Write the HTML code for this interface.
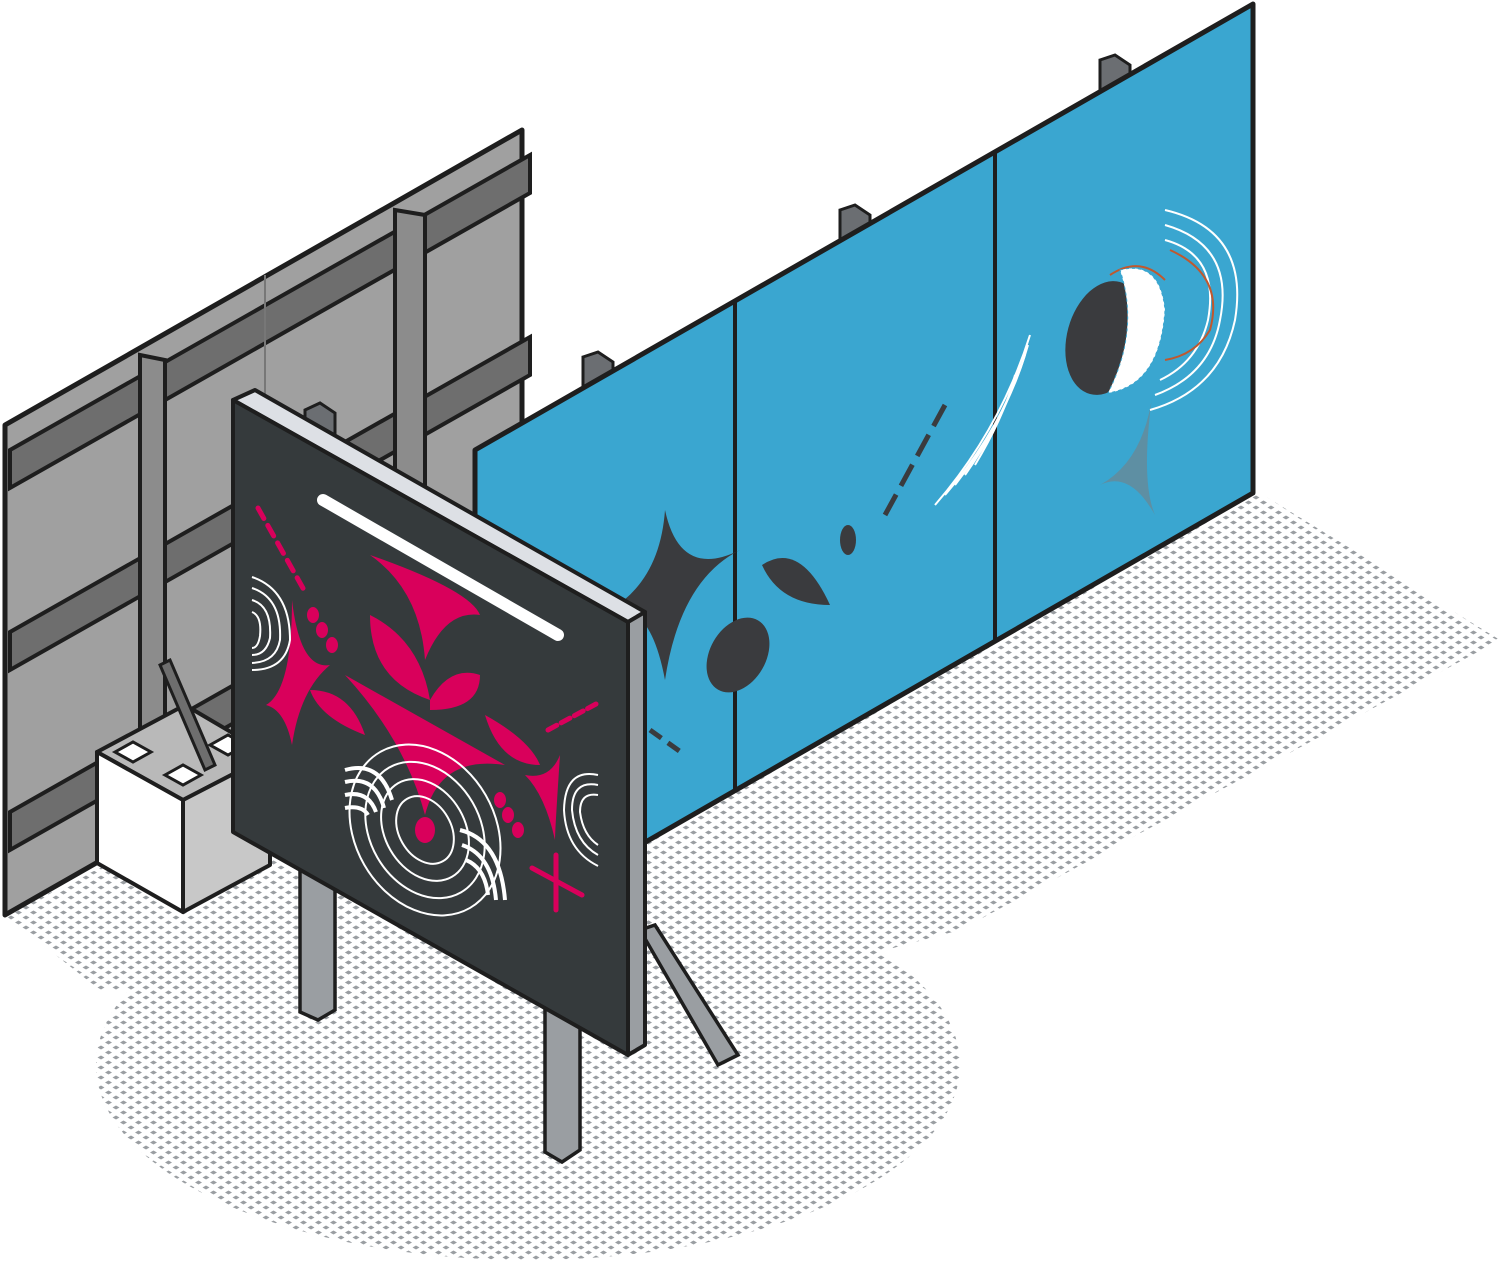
<!DOCTYPE html>
<html><head><meta charset="utf-8"><style>html,body{margin:0;padding:0;background:#fff}svg{display:block}</style></head><body>
<svg width="1503" height="1263" viewBox="0 0 1503 1263" xmlns="http://www.w3.org/2000/svg">
<defs>
<pattern id="dots" width="15" height="10" patternUnits="userSpaceOnUse">
<polygon points="3.5,0.5 7,2.5 3.5,4.5 0,2.5" fill="#9a9ea2"/>
<polygon points="11,5.5 14.5,7.5 11,9.5 7.5,7.5" fill="#9a9ea2"/>
</pattern>
</defs>
<!-- ground -->
<g fill="url(#dots)">
<polygon points="5,915 480,680 1255,490 1500,640 960,930 700,1000 100,990"/>
<ellipse cx="528" cy="1065" rx="432" ry="195"/>
</g>
<!-- gray wall -->
<polygon points="5,425 522,130 522,620 5,915" fill="#a0a0a0" stroke="#1e1e1e" stroke-width="5" stroke-linejoin="round"/>
<g fill="#6e6e6e" stroke="#1e1e1e" stroke-width="4">
<polygon points="10,450 530,155 530,193 10,488"/>
<polygon points="10,632 530,337 530,375 10,670"/>
<polygon points="10,812 530,517 530,555 10,850"/>
</g>
<line x1="265" y1="275" x2="265" y2="760" stroke="#777" stroke-width="2"/>
<g fill="#8c8c8c" stroke="#1e1e1e" stroke-width="4">
<polygon points="140,355 165,360 165,740 140,735"/>
<polygon points="395,210 425,215 425,720 395,715"/>
</g>
<!-- concrete block -->
<polygon points="97,752 185,705 270,755 183,800" fill="#b9b9b9" stroke="#1e1e1e" stroke-width="4" stroke-linejoin="round"/>
<polygon points="97,752 183,800 183,912 97,863" fill="#fff" stroke="#1e1e1e" stroke-width="4" stroke-linejoin="round"/>
<polygon points="183,800 270,755 270,865 183,912" fill="#c8c8c8" stroke="#1e1e1e" stroke-width="4" stroke-linejoin="round"/>
<g fill="#fff" stroke="#1e1e1e" stroke-width="3">
<polygon points="115,752 133,742 151,752 133,762"/>
<polygon points="165,775 183,765 201,775 183,785"/>
<polygon points="210,745 228,735 246,745 228,755"/>
</g>
<!-- brace to block -->
<polygon points="160,665 170,660 215,765 205,770" fill="#6e6e6e" stroke="#1e1e1e" stroke-width="3"/>
<!-- posts behind blue wall -->
<g fill="#6b6e72" stroke="#1e1e1e" stroke-width="3">
<polygon points="1100,60 1115,55 1130,65 1130,90 1100,90"/>
<polygon points="840,210 855,205 870,215 870,240 840,240"/>
<polygon points="583,357 598,352 613,362 613,390 583,390"/>
<polygon points="305,410 320,403 335,413 335,440 305,440"/>
<polygon points="553,552 568,545 583,555 583,580 553,580"/>
</g>
<!-- blue wall -->
<polygon points="475,450 1253,4 1253,493 475,940" fill="#3aa6d0" stroke="#1e1e1e" stroke-width="5" stroke-linejoin="round"/>
<line x1="735" y1="300" x2="735" y2="790" stroke="#1e1e1e" stroke-width="4"/>
<line x1="995" y1="152" x2="995" y2="641" stroke="#1e1e1e" stroke-width="4"/>
<!-- blue decorations -->
<g fill="#3a3b3e">
<path d="M665,510 Q680,580 740,550 Q680,580 665,680 Q650,600 610,610 Q660,580 665,510Z"/>
<path d="M762,565 Q800,540 830,605 Q780,605 762,565Z"/>
<ellipse cx="738" cy="655" rx="28" ry="40" transform="rotate(30 738 655)"/>
<ellipse cx="848" cy="540" rx="8" ry="15"/>
<ellipse cx="1105" cy="338" rx="38" ry="58" transform="rotate(15 1105 338)"/>
</g>
<path d="M1153,390 Q1140,480 1155,515 Q1130,470 1100,485 Q1145,460 1153,390Z" fill="#5e8fa3"/>
<g fill="none" stroke="#fff" stroke-width="2">
<path d="M935,505 Q1000,430 1030,335"/><path d="M945,495 Q1005,425 1028,345"/><path d="M955,485 Q1005,420 1025,355"/><path d="M965,475 Q1005,418 1020,365"/><path d="M975,465 Q1005,415 1015,375"/>
<path d="M1165,210 Q1250,230 1235,320 Q1220,390 1150,410"/><path d="M1165,225 Q1235,245 1220,320 Q1210,375 1155,395"/><path d="M1165,240 Q1220,255 1208,320 Q1198,362 1160,380"/>
</g>
<g fill="none" stroke="#c0582e" stroke-width="2">
<path d="M1170,250 Q1225,275 1210,330 Q1195,355 1165,360"/><path d="M1110,275 Q1140,255 1165,280"/>
</g>
<path d="M1120,270 Q1160,260 1165,310 Q1160,385 1108,393 Q1140,330 1120,270Z" fill="#fff" stroke="#3aa6d0" stroke-width="1" stroke-dasharray="3 3"/>
<g stroke="#3a3b3e" stroke-width="5"><line x1="945" y1="405" x2="885" y2="515" stroke-dasharray="24 10"/><line x1="650" y1="730" x2="685" y2="755" stroke-dasharray="14 8"/></g>
<!-- legs -->
<g fill="#9a9ea2" stroke="#1e1e1e" stroke-width="3.5">
<polygon points="300,860 335,860 335,1010 318,1020 300,1012"/>
<polygon points="545,1000 580,1000 580,1150 562,1162 545,1152"/>
<polygon points="640,930 655,925 738,1055 718,1065"/>
</g>
<!-- sign -->
<polygon points="233,400 255,390 645,612 628,622" fill="#dde0e5" stroke="#1e1e1e" stroke-width="4" stroke-linejoin="round"/>
<polygon points="628,622 645,612 645,1045 628,1055" fill="#9a9ea2" stroke="#1e1e1e" stroke-width="4" stroke-linejoin="round"/>
<polygon points="233,400 628,622 628,1055 233,832" fill="#353a3c" stroke="#1e1e1e" stroke-width="4" stroke-linejoin="round"/>
<line x1="323" y1="500" x2="558" y2="635" stroke="#fff" stroke-width="12" stroke-linecap="round"/>
<g fill="#d9005b">
<path d="M370,555 Q470,590 480,615 Q445,610 425,660 Q420,590 370,555Z"/>
<path d="M370,615 Q420,640 430,700 Q370,680 370,615Z"/>
<path d="M430,700 Q450,665 480,675 Q480,710 430,710Z"/>
<path d="M310,690 Q350,690 365,735 Q320,718 310,690Z"/>
<path d="M292,600 Q300,670 330,665 Q300,690 292,745 Q285,710 266,705 Q292,690 292,600Z"/>
<path d="M485,715 Q530,740 540,765 Q500,765 485,715Z"/>
<path d="M560,755 Q555,830 555,840 Q545,795 525,775 Q550,780 560,755Z"/>
<path d="M345,675 L505,765 Q440,755 425,815 Q405,740 345,675Z"/>
<ellipse cx="313" cy="615" rx="6" ry="8"/><ellipse cx="322" cy="630" rx="6" ry="8"/><ellipse cx="332" cy="645" rx="6" ry="8"/>
<ellipse cx="500" cy="800" rx="6" ry="8"/><ellipse cx="508" cy="815" rx="6" ry="8"/><ellipse cx="518" cy="830" rx="6" ry="8"/>
<ellipse cx="425" cy="830" rx="10" ry="13"/>
</g>
<g stroke="#d9005b" stroke-width="5" stroke-linecap="round"><line x1="258" y1="508" x2="304" y2="590" stroke-dasharray="12 8"/><line x1="548" y1="730" x2="596" y2="704" stroke-dasharray="10 5"/><line x1="556" y1="855" x2="556" y2="910"/><line x1="532" y1="868" x2="582" y2="895"/></g>
<g fill="none" stroke="#fff" stroke-width="2">
<path d="M252,577 Q290,590 290,640 Q285,670 252,670"/><path d="M252,588 Q282,598 280,640 Q276,662 252,663"/><path d="M252,600 Q272,606 270,638 Q266,655 252,655"/><path d="M252,612 Q262,616 260,636 Q258,648 252,648"/>
<path d="M598,775 Q565,768 564,810 Q566,850 598,866"/><path d="M598,785 Q572,780 572,810 Q575,842 598,855"/><path d="M598,795 Q580,792 580,812 Q583,835 598,845"/>
<ellipse cx="425" cy="830" rx="70" ry="90" transform="rotate(-30 425 830)"/><ellipse cx="425" cy="830" rx="55" ry="72" transform="rotate(-30 425 830)"/><ellipse cx="425" cy="830" rx="40" ry="54" transform="rotate(-30 425 830)"/><ellipse cx="425" cy="830" rx="26" ry="36" transform="rotate(-30 425 830)"/>
</g>
<g stroke="#fff" stroke-width="4" fill="none">
<path d="M345,770 Q380,760 392,800"/><path d="M345,782 Q375,775 384,808"/><path d="M345,795 Q368,790 376,812"/><path d="M345,808 Q362,805 368,815"/>
<path d="M460,830 Q500,840 505,900"/><path d="M462,845 Q492,855 496,900"/><path d="M466,860 Q485,868 488,895"/>
</g>
</svg>
</body></html>
